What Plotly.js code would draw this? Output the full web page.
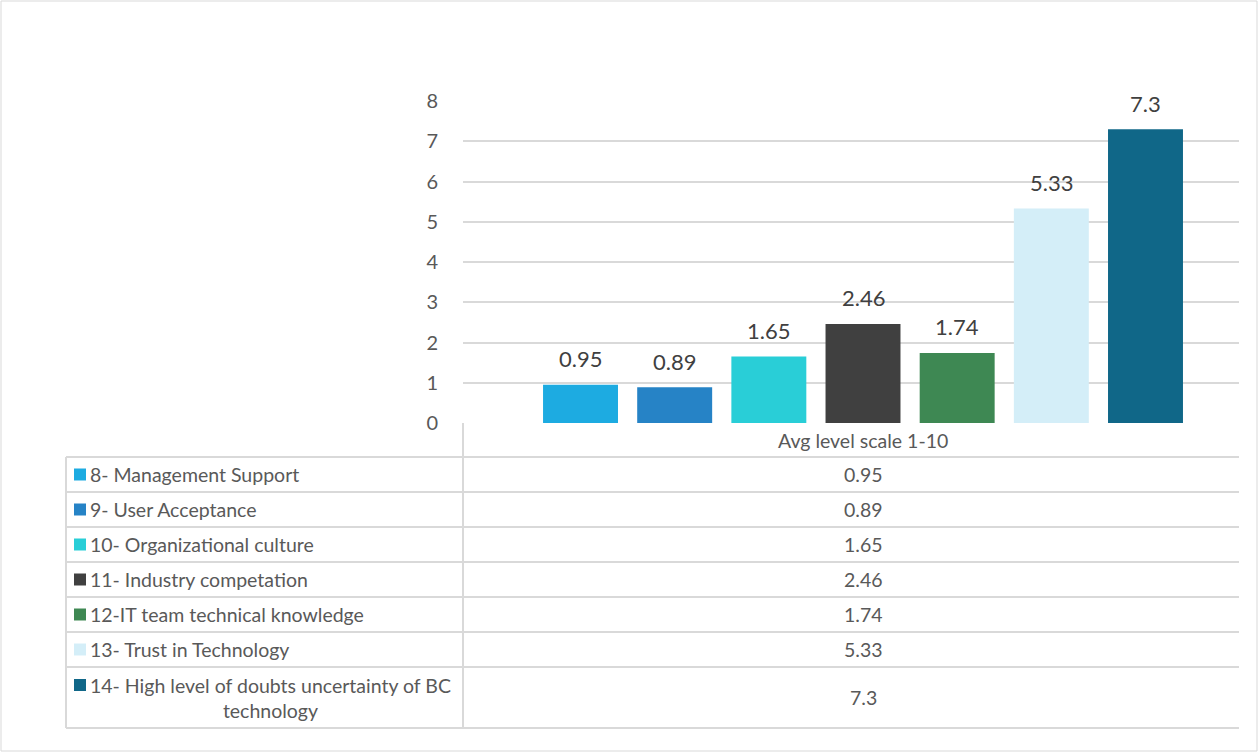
<!DOCTYPE html>
<html>
<head>
<meta charset="utf-8">
<script src="https://cdn.plot.ly/plotly-3.0.1.min.js"></script>
<style>
  html, body { margin: 0; padding: 0; background: #ffffff; }
  #chart { width: 1259px; height: 753px; }
</style>
</head>
<body>
<div id="chart"></div>
<script>
// ---- data ----
const seriesNames = [
  "8- Management Support",
  "9- User Acceptance",
  "10- Organizational culture",
  "11- Industry competation",
  "12-IT team technical knowledge",
  "13- Trust in Technology",
  "14- High level of doubts uncertainty of BC technology"
];
const seriesValues = [0.95, 0.89, 1.65, 2.46, 1.74, 5.33, 7.3];
const seriesColors = ["#1DABE1", "#2683C6", "#29CED7", "#404040", "#3E8853", "#D4EEF8", "#106788"];
const categoryLabel = "Avg level scale 1-10";
const yTicks = [0, 1, 2, 3, 4, 5, 6, 7, 8];

// ---- layout geometry (pixels of the 1259x753 canvas) ----
const W = 1259, H = 753;
const plotL = 463, plotR = 1239, plotT = 101, plotB = 423;
const pw = plotR - plotL, ph = plotB - plotT;
const px = x => (x - plotL) / pw;          // pixel -> paper x
const py = y => (plotB - y) / ph;          // pixel -> paper y

const gridColor = "#D9D9D9";
const textColor = "#595959";
const font = "Lato, 'Open Sans', sans-serif";
const tableFontSize = 19.5;

const tableLeft = 66, tableSplit = 463;
const rowTops = [457, 492, 527, 562, 597, 632, 667];
const tableBottom = 728;
const valueCenterX = 863;

function wrapLabel(s) {
  if (s.length <= 42) return s;
  const i = s.lastIndexOf(" ");
  return s.slice(0, i) + "<br>" + s.slice(i + 1);
}

const trace = {
  type: "bar",
  x: seriesNames,
  y: seriesValues,
  marker: { color: seriesColors, line: { width: 0 } },
  hoverinfo: "x+y",
  showlegend: false
};

const shapes = [];
const annotations = [];

// outer chart border
shapes.push({ type: "rect", xref: "paper", yref: "paper", x0: px(1), x1: px(W - 2), y0: py(1), y1: py(H - 2),
  line: { color: gridColor, width: 1 }, layer: "below" });

// table horizontal lines
const hLines = rowTops.concat([tableBottom]);
hLines.forEach(yy => {
  shapes.push({ type: "line", xref: "paper", yref: "paper", x0: px(tableLeft), x1: 1, y0: py(yy), y1: py(yy),
    line: { color: gridColor, width: 2 } });
});
// vertical lines
shapes.push({ type: "line", xref: "paper", yref: "paper", x0: px(tableLeft), x1: px(tableLeft), y0: py(rowTops[0]), y1: py(tableBottom),
  line: { color: gridColor, width: 2 } });
shapes.push({ type: "line", xref: "paper", yref: "paper", x0: px(tableSplit), x1: px(tableSplit), y0: 0, y1: py(tableBottom),
  line: { color: gridColor, width: 2 } });

// header
annotations.push({ xref: "paper", yref: "paper", x: px(valueCenterX), y: py(440), text: categoryLabel,
  showarrow: false, xanchor: "center", yanchor: "middle", font: { family: font, size: tableFontSize, color: textColor } });

// rows
seriesNames.forEach((name, i) => {
  const top = rowTops[i];
  const bottom = i + 1 < rowTops.length ? rowTops[i + 1] : tableBottom;
  const center = (top + bottom) / 2;
  const keyCenter = (i === seriesNames.length - 1) ? top + 18 : center;
  shapes.push({ type: "rect", xref: "paper", yref: "paper", x0: px(74), x1: px(86), y0: py(keyCenter - 6), y1: py(keyCenter + 6),
    fillcolor: seriesColors[i], line: { width: 0 } });
  annotations.push({ xref: "paper", yref: "paper", x: px(88), y: py(center), text: wrapLabel(name),
    showarrow: false, xanchor: "left", yanchor: "middle", align: "center",
    font: { family: font, size: tableFontSize, color: textColor } });
  annotations.push({ xref: "paper", yref: "paper", x: px(valueCenterX), y: py(center), text: String(seriesValues[i]),
    showarrow: false, xanchor: "center", yanchor: "middle", font: { family: font, size: tableFontSize, color: textColor } });
  // data label above bar
  annotations.push({ xref: "x", yref: "y", x: name, y: seriesValues[i], text: String(seriesValues[i]),
    showarrow: false, xanchor: "center", yanchor: "middle", yshift: 26,
    font: { family: font, size: 22, color: "#404040" } });
});

const layout = {
  width: W, height: H,
  margin: { l: plotL, r: W - plotR, t: plotT, b: H - plotB, pad: 0 },
  paper_bgcolor: "#ffffff",
  plot_bgcolor: "#ffffff",
  bargap: 0.204,
  showlegend: false,
  xaxis: {
    type: "category",
    range: [-1.248, 6.993],
    showticklabels: false, showgrid: false, zeroline: false, showline: false, ticks: "",
    fixedrange: true
  },
  yaxis: {
    range: [0, 8],
    tickvals: yTicks,
    ticktext: yTicks.map(String),
    showgrid: true, gridcolor: gridColor, gridwidth: 2,
    zeroline: false, showline: false,
    ticks: "outside", ticklen: 20, tickcolor: "rgba(0,0,0,0)",
    tickfont: { family: font, size: 20, color: textColor },
    fixedrange: true
  },
  shapes: shapes,
  annotations: annotations
};

Plotly.newPlot("chart", [trace], layout, { displayModeBar: false, staticPlot: true });
</script>
</body>
</html>
